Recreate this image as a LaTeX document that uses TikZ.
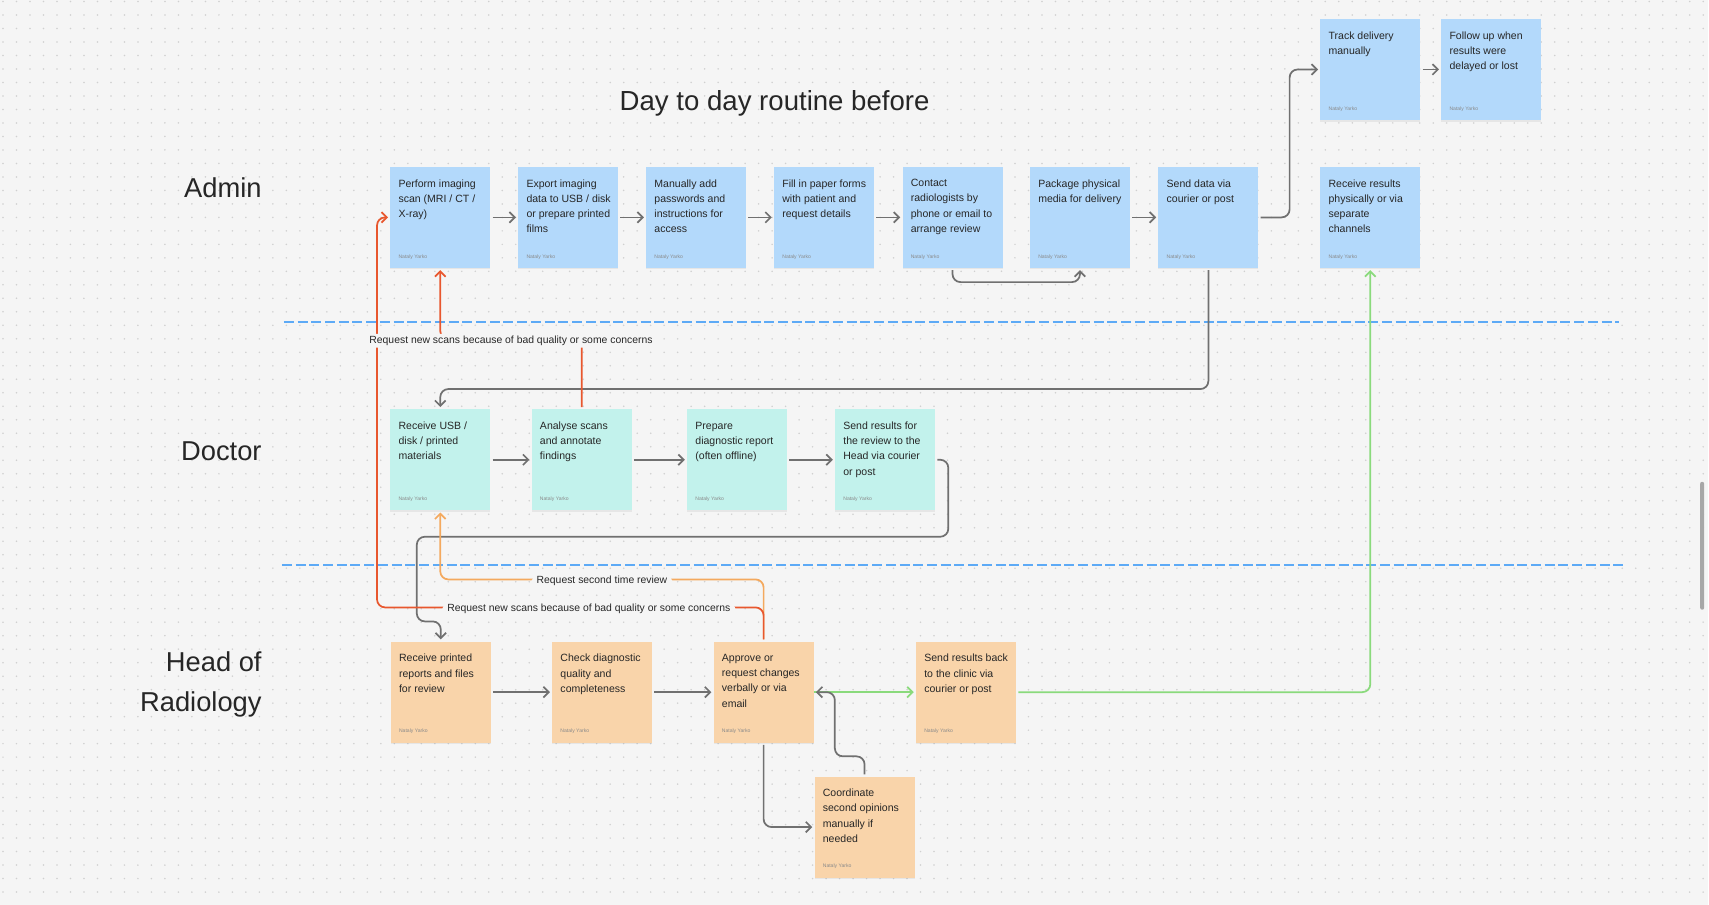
\documentclass[tikz,border=0pt]{standalone}
\usepackage{fontspec}
\setmainfont{Liberation Sans}
\usetikzlibrary{arrows.meta,shadows,calc}

\definecolor{paper}{HTML}{F5F5F5}
\definecolor{dotc}{HTML}{D0D0D0}
\definecolor{adminfill}{HTML}{B3D9FB}
\definecolor{doctorfill}{HTML}{C2F2EC}
\definecolor{headfill}{HTML}{F9D4AA}
\definecolor{link}{HTML}{707070}
\definecolor{urgent}{HTML}{E8572E}
\definecolor{retry}{HTML}{F4A95E}
\definecolor{done}{HTML}{8ADA7C}
\definecolor{lanecut}{HTML}{5DAAF6}
\definecolor{ink}{HTML}{262626}
\definecolor{sign}{HTML}{8A8A8A}

\newcommand\sticky[1]{\begin{minipage}[c][75.75pt][t]{75pt}%
\vspace*{9.4pt}\raggedright\leftskip=6.2pt\parindent=0pt
\fontsize{7.9pt}{11.4pt}\selectfont #1\par
\vfill\fontsize{3.8pt}{4.5pt}\selectfont\leavevmode{\color{sign}Nataly Yarko}\par
\vspace*{6.6pt}\end{minipage}}

\tikzset{
  sticky/.style={rectangle, inner sep=0pt, minimum width=75pt, minimum height=75.75pt, text=ink,
    drop shadow={shadow xshift=0pt, shadow yshift=-1.2pt, opacity=0.12}},
  admin/.style={sticky, fill=adminfill},
  doctor/.style={sticky, fill=doctorfill},
  head/.style={sticky, fill=headfill},
  heading/.style={font=\fontsize{20.7pt}{25pt}\selectfont, text=ink},
  lane/.style={font=\fontsize{20.5pt}{30pt}\selectfont, text=ink, align=right, anchor=east, inner sep=0pt},
  tag/.style={fill=paper, inner xsep=3.7pt, inner ysep=1.5pt, yshift=-1.2pt, font=\fontsize{7.8pt}{9pt}\selectfont, text=ink},
  flow/.style={draw=link, line width=1.3pt, rounded corners=6pt, shorten <=1.5pt, shorten >=1.5pt,
    -{Straight Barb[length=4pt,width=8pt]}},
  dotrow/.style={dotc, line width=1.3pt, line cap=round, dash pattern=on 0pt off 10.125pt},
  cut/.style={lanecut, line width=1.3pt, dash pattern=on 7.5pt off 2.8pt}
}

\begin{document}
\begin{tikzpicture}[x=0.75pt,y=-0.75pt]
\fill[paper] (0,0) rectangle (1709,905);
\foreach \j in {0,...,66}
  \draw[dotrow] (3,{1.5+13.5*\j}) -- (1709,{1.5+13.5*\j});
\fill[sign!75, rounded corners=1.5pt] (1701,482) rectangle (1705,610);

\node[heading] (title) at (775,103) {Day to day routine before};
\node[lane] (admin) at (262,187.5) {Admin};
\node[lane] (doctor) at (262,451) {Doctor};
\node[lane] (head) at (262,685) {Head of\\Radiology};

\draw[cut] (284,322) -- (1620,322);
\draw[cut] (282,565) -- (1624,565);

\node[admin] (a1) at (440.5,217.5) {\sticky{Perform imaging\\scan (MRI / CT /\\X-ray)}};
\node[admin] (a2) at (568.5,217.5) {\sticky{Export imaging\\data to USB / disk\\or prepare printed\\films}};
\node[admin] (a3) at (696.5,217.5) {\sticky{Manually add\\passwords and\\instructions for\\access}};
\node[admin] (a4) at (824.5,217.5) {\sticky{Fill in paper forms\\with patient and\\request details}};
\node[admin] (a5) at (953,217.5) {\sticky{Contact\\radiologists by\\phone or email to\\arrange review}};
\node[admin] (a6) at (1080.5,217.5) {\sticky{Package physical\\media for delivery}};
\node[admin] (a7) at (1209,217.5) {\sticky{Send data via\\courier or post}};
\node[admin] (a8) at (1371,69.5) {\sticky{Track delivery\\manually}};
\node[admin] (a9) at (1492,69.5) {\sticky{Follow up when\\results were\\delayed or lost}};
\node[admin] (a10) at (1371,217.5) {\sticky{Receive results\\physically or via\\separate\\channels}};

\node[doctor] (d1) at (440.5,460) {\sticky{Receive USB /\\disk / printed\\materials}};
\node[doctor] (d2) at (582,460) {\sticky{Analyse scans\\and annotate\\findings}};
\node[doctor] (d3) at (737.5,460) {\sticky{Prepare\\diagnostic report\\(often offline)}};
\node[doctor] (d4) at (885.5,460) {\sticky{Send results for\\the review to the\\Head via courier\\or post}};

\node[head] (h1) at (441,692.5) {\sticky{Receive printed\\reports and files\\for review}};
\node[head] (h2) at (602.5,692.5) {\sticky{Check diagnostic\\quality and\\completeness}};
\node[head] (h3) at (764,692.5) {\sticky{Approve or\\request changes\\verbally or via\\email}};
\node[head] (h4) at (966.5,692.5) {\sticky{Send results back\\to the clinic via\\courier or post}};
\node[head] (h5) at (865,827.5) {\sticky{Coordinate\\second opinions\\manually if\\needed}};

\draw[flow] (a1) -- (a2);
\draw[flow] (a2) -- (a3);
\draw[flow] (a3) -- (a4);
\draw[flow] (a4) -- (a5);
\draw[flow] (a5.south) -- ++(0,14) -| (a6.south);
\draw[flow] (a6) -- (a7);
\draw[flow] (a7.east) -- ++(31,0) |- (a8.west);
\draw[flow] (a8) -- (a9);
\draw[flow] (a7.south) -- ++(0,121) -| (d1.north);
\draw[flow] (d1) -- (d2);
\draw[flow] (d2) -- (d3);
\draw[flow] (d3) -- (d4);
\draw[flow] (d4.east) -- ++(13,0) |- (417,537) |- ($(h1.north)+(0,-20)$) -- (h1.north);
\draw[flow] (h1) -- (h2);
\draw[flow] (h2) -- (h3);
\draw[flow] (h3.south) |- (h5.west);
\draw[flow, draw=done, shorten <=0pt] (h3.east) -- (h4.west);
\draw[flow, draw=done] (h4.east) -| (a10.south);
\draw[flow] (h5.north) -- ++(0,-20) -| ($(h3.east)+(21,0)$) -- (h3.east);

\draw[flow, draw=retry] (h3.north) -- ++(0,-62) -| node[tag,pos=0.25] {Request second time review} (d1.south);
\draw[flow, draw=urgent] (h3.north) -- ++(0,-34) -| node[tag,pos=0.226] {Request new scans because of bad quality or some concerns} ($(a1.west)+(-13,0)$) -- (a1.west);
\draw[flow, draw=urgent] (d2.north) -- ++(0,-70) -| node[tag,pos=0.25] {Request new scans because of bad quality or some concerns} (a1.south);
\end{tikzpicture}
\end{document}
